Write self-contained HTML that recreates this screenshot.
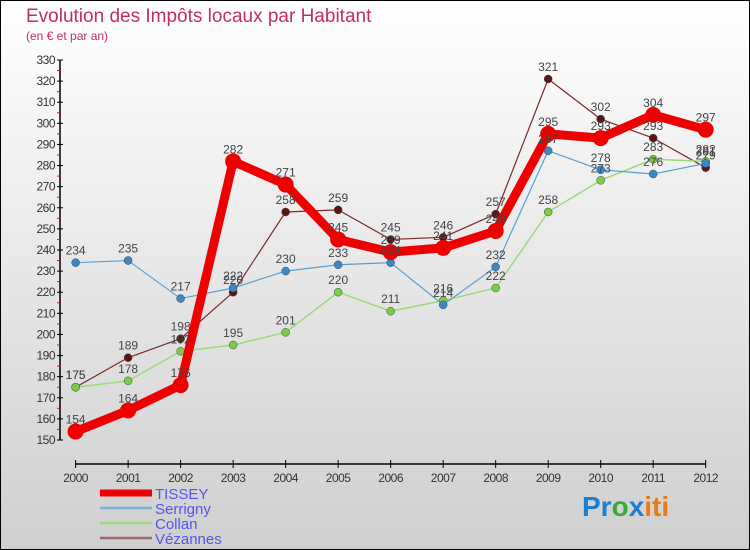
<!DOCTYPE html>
<html><head><meta charset="utf-8"><style>
body{margin:0;width:750px;height:550px;overflow:hidden;font-family:"Liberation Sans",sans-serif}
#wrap{position:absolute;left:0;top:0;width:748px;height:548px;border:1px solid #000;background:linear-gradient(#ffffff,#cfcfcf)}
</style></head><body>
<div id="wrap">
<svg id="chart" width="750" height="550" style="position:absolute;left:-1px;top:-1px">
<text x="26" y="22" font-size="19" fill="#c0305e">Evolution des Impôts locaux par Habitant</text>
<text x="26" y="40" font-size="12" fill="#c0305e">(en € et par an)</text>
<g id="axes"></g><g id="series"></g><g id="labels"></g>
<g id="legend"></g>
<text x="582" y="516" font-size="28" font-weight="bold"><tspan fill="#1a7fd0">Pr</tspan><tspan fill="#3aa83a">o</tspan><tspan fill="#1a7fd0">x</tspan><tspan fill="#f07a10">iti</tspan></text>
</svg>
</div>
<script>
const years=[2000,2001,2002,2003,2004,2005,2006,2007,2008,2009,2010,2011,2012];
const tissey=[154,164,176,282,271,245,239,241,249,295,293,304,297];
const serrigny=[234,235,217,222,230,233,234,214,232,287,278,276,281];
const collan=[175,178,192,195,201,220,211,216,222,258,273,283,282];
const vezannes=[175,189,198,220,258,259,245,246,257,321,302,293,279];
const yTicks=[150,160,170,180,190,200,210,220,230,240,250,260,270,280,290,300,310,320,330];
const NS="http://www.w3.org/2000/svg";
const X=i=>75.6+i*(705.7-75.6)/12;
const Y=v=>440-(v-150)*(380/180);
function mk(tag,attrs,parent){const e=document.createElementNS(NS,tag);for(const k in attrs)e.setAttribute(k,attrs[k]);parent.appendChild(e);return e;}
const ax=document.getElementById('axes'),sg=document.getElementById('series'),lg=document.getElementById('labels');
let yl=mk('line',{x1:60,y1:Y(330),x2:60,y2:Y(150),stroke:'#000','stroke-width':1.5},ax);


let xl=mk('line',{x1:X(0),y1:464,x2:X(12),y2:464,stroke:'#000','stroke-width':1.5},ax);


yTicks.forEach((t,i)=>{
  mk('line',{x1:57,y1:Y(t),x2:63,y2:Y(t),stroke:'#000'},ax);
  if(i<yTicks.length-1)mk('line',{x1:57,y1:Y(t+5),x2:60,y2:Y(t+5),stroke:'#f00'},ax);
  const tx=mk('text',{x:55,y:Y(t)+4,'font-size':12,'text-anchor':'end',fill:'#333','letter-spacing':'-0.5'},ax);
  tx.textContent=t;
  
  
});
years.forEach((yr,i)=>{
  mk('line',{x1:X(i),y1:460,x2:X(i),y2:468,stroke:'#000'},ax);
  const tx=mk('text',{x:X(i),y:482,'font-size':12,'text-anchor':'middle',fill:'#333','letter-spacing':'-0.5'},ax);
  tx.textContent=yr;
  
  
});
const series=[
 {name:'vezannes',d:vezannes,c:'#7a2a2a',p:'#5a1515',w:1.2,r:4},
 {name:'collan',d:collan,c:'#9ada7a',p:'#7ccc44',w:1.5,r:4},
 {name:'serrigny',d:serrigny,c:'#5a9fd4',p:'#3a88c8',w:1.2,r:4},
 {name:'tissey',d:tissey,c:'#ee0000',p:'#ee0000',w:9,r:8}
];
series.forEach(s=>{
  const pl=mk('polyline',{points:s.d.map((v,i)=>X(i)+','+Y(v)).join(' '),fill:'none',stroke:s.c,'stroke-width':s.w,'stroke-linejoin':'round'},sg);
  
  
  s.d.forEach((v,i)=>{
    const c=mk('circle',{cx:X(i),cy:Y(v),r:s.r,fill:s.p,stroke:s.r>5?'none':'#444','stroke-width':0.5},sg);
    
    
    const t=mk('text',{x:X(i),y:Y(v)-8,'font-size':12,'text-anchor':'middle',fill:'#444'},lg);
    t.textContent=v;
    
    
  });
});
const leg=document.getElementById('legend');
[['TISSEY','#ee0000',7],['Serrigny','#7fb0d8',2.5],['Collan','#9ada7a',2.5],['Vézannes','#9a6a6a',2.5]].forEach((e,i)=>{
  const y=493+i*15;
  mk('line',{x1:100,y1:y,x2:152,y2:y,stroke:e[1],'stroke-width':e[2]},leg);
  const t=mk('text',{x:155,y:y+6,'font-size':15,fill:'#5555ee'},leg);
  t.textContent=e[0];
  
  
});
</script>
</body></html>
